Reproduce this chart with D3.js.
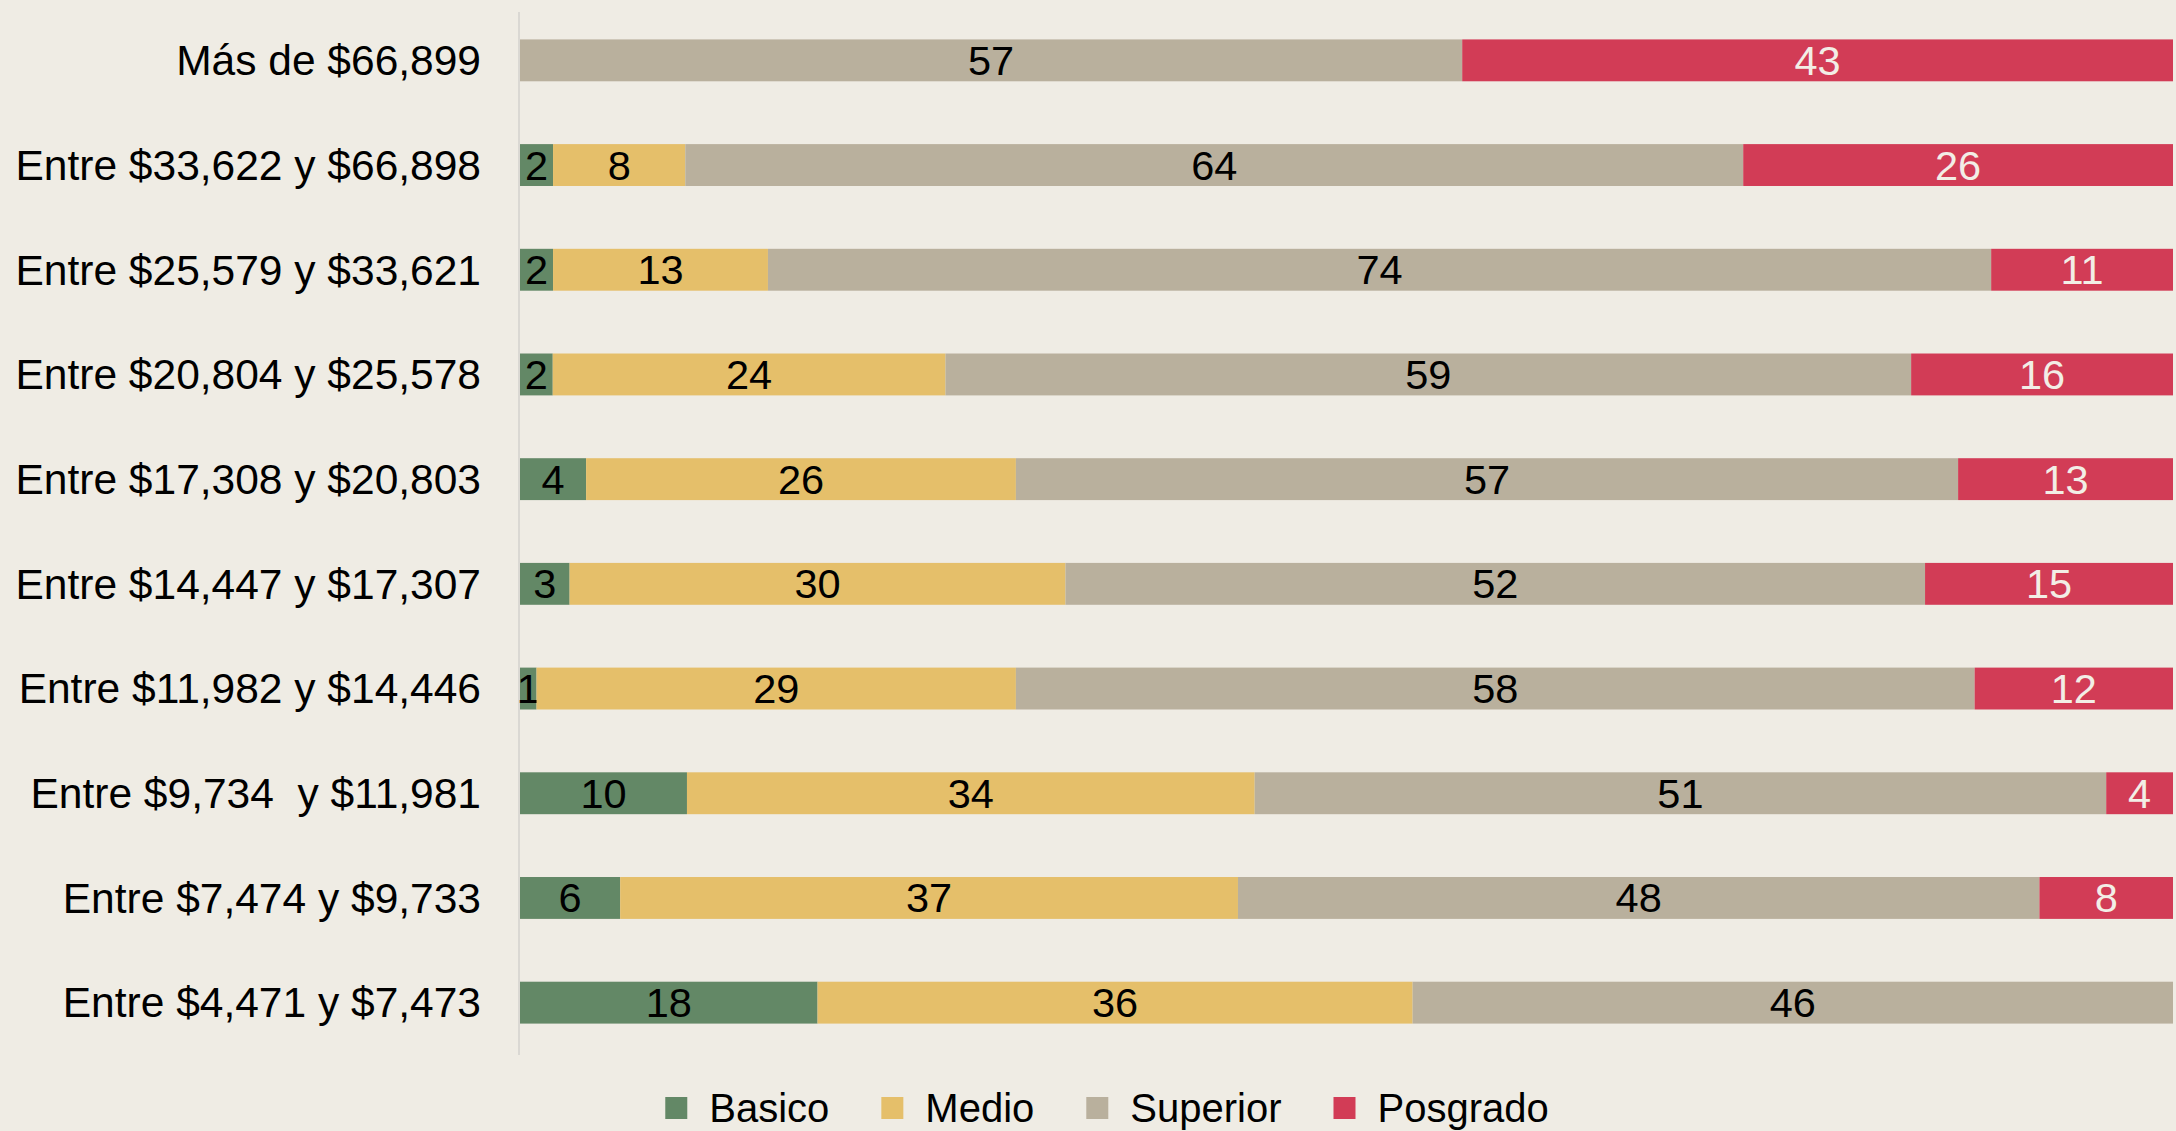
<!DOCTYPE html>
<html>
<head>
<meta charset="utf-8">
<script src="https://cdn.jsdelivr.net/npm/d3@7"></script>
<style>
  body { margin: 0; background: #efece4; }
  svg text { font-family: "Liberation Sans", Arial, sans-serif; }
</style>
</head>
<body>
<script>
// rangos de ingreso, de arriba hacia abajo
const categories = [
  "Más de $66,899",
  "Entre $33,622 y $66,898",
  "Entre $25,579 y $33,621",
  "Entre $20,804 y $25,578",
  "Entre $17,308 y $20,803",
  "Entre $14,447 y $17,307",
  "Entre $11,982 y $14,446",
  "Entre $9,734  y $11,981",
  "Entre $7,474 y $9,733",
  "Entre $4,471 y $7,473"
];
const series = ["Basico", "Medio", "Superior", "Posgrado"];
const basico   = [0, 2, 2, 2, 4, 3, 1, 10, 6, 18];
const medio    = [0, 8, 13, 24, 26, 30, 29, 34, 37, 36];
const superior = [57, 64, 74, 59, 57, 52, 58, 51, 48, 46];
const posgrado = [43, 26, 11, 16, 13, 15, 12, 4, 8, 0];
const colors = ["#638866", "#e5bf6a", "#b9b09d", "#d23c56"];
const textColors = ["#000", "#000", "#000", "#f2eee6"];

const width = 2176, height = 1131;
const margin = {top: 8, left: 520, right: 3, bottom: 76};

const rows = categories.map((c, i) => ({
  cat: c, Basico: basico[i], Medio: medio[i], Superior: superior[i], Posgrado: posgrado[i]
}));

const svg = d3.select("body").append("svg")
  .attr("width", width)
  .attr("height", height)
  .style("display", "block");

const y = d3.scaleBand()
  .domain(categories)
  .range([margin.top, height - margin.bottom])
  .paddingInner(0.6)
  .paddingOuter(0.3);

const x = d3.scaleLinear()
  .domain([0, 1])
  .range([margin.left, width - margin.right]);

const stack = d3.stack().keys(series).offset(d3.stackOffsetExpand);
const layers = stack(rows);

// linea del eje
svg.append("line")
  .attr("x1", margin.left - 1).attr("x2", margin.left - 1)
  .attr("y1", margin.top + 4).attr("y2", height - margin.bottom)
  .attr("stroke", "#dad8d3")
  .attr("stroke-width", 2);

const g = svg.selectAll(".layer")
  .data(layers)
  .enter().append("g")
  .attr("class", "layer");

g.selectAll("rect")
  .data((L, k) => L.map(d => ({d, k})))
  .enter().append("rect")
  .attr("x", o => x(o.d[0]))
  .attr("y", o => y(o.d.data.cat))
  .attr("width", o => x(o.d[1]) - x(o.d[0]))
  .attr("height", y.bandwidth())
  .attr("fill", o => colors[o.k]);

g.selectAll("text")
  .data((L, k) => L.map(d => ({d, k})).filter(o => o.d.data[series[o.k]] > 0))
  .enter().append("text")
  .attr("x", o => (x(o.d[0]) + x(o.d[1])) / 2)
  .attr("y", o => y(o.d.data.cat) + y.bandwidth() / 2 + 14.5)
  .attr("text-anchor", "middle")
  .attr("font-size", 41.5)
  .attr("fill", o => textColors[o.k])
  .text(o => o.d.data[series[o.k]]);

// etiquetas de categorias
svg.selectAll(".cat")
  .data(categories)
  .enter().append("text")
  .attr("class", "cat")
  .attr("x", 481)
  .attr("y", d => y(d) + y.bandwidth() / 2 + 14.8)
  .attr("text-anchor", "end")
  .attr("font-size", 42.5)
  .attr("fill", "#000")
  .style("white-space", "pre")
  .text(d => d);

// leyenda
const legend = svg.append("g");
let lx = 0;
series.forEach((s, i) => {
  const item = legend.append("g").attr("transform", `translate(${lx},0)`);
  item.append("rect")
    .attr("x", 0).attr("y", 1097)
    .attr("width", 22).attr("height", 22)
    .attr("fill", colors[i]);
  const t = item.append("text")
    .attr("x", 44).attr("y", 1121.5)
    .attr("font-size", 40)
    .attr("fill", "#000")
    .text(s);
  lx += 44 + t.node().getComputedTextLength() + 52;
});
const legW = lx - 52;
legend.attr("transform", `translate(${1107 - legW / 2},0)`);
</script>
</body>
</html>
